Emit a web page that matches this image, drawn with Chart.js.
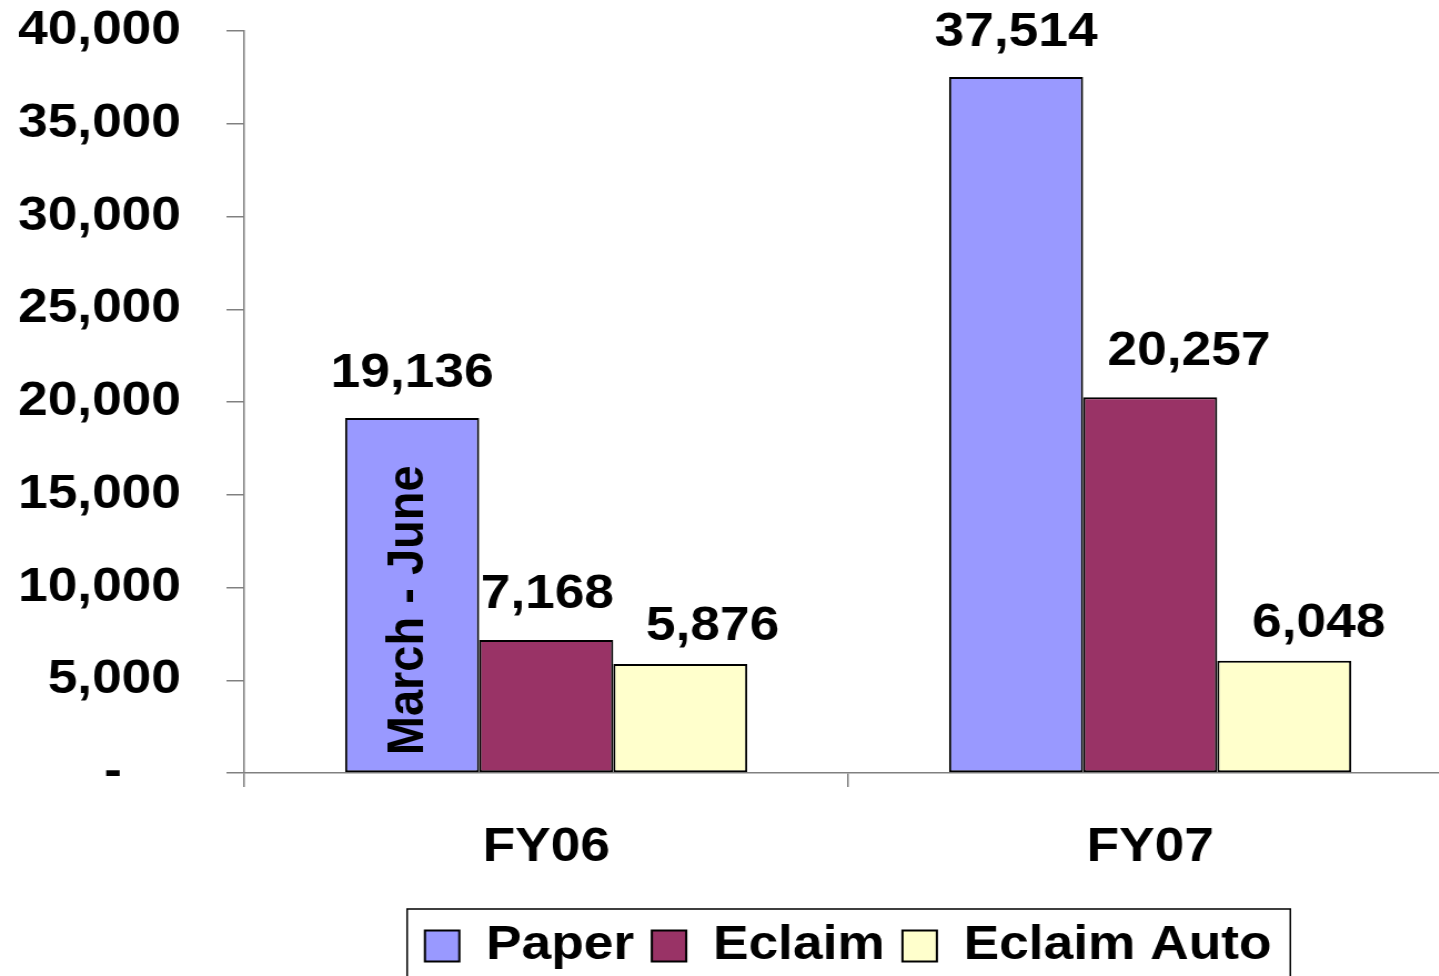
<!DOCTYPE html>
<html>
<head>
<meta charset="utf-8">
<title>Claims FY06 - FY07</title>
<script src="https://cdn.jsdelivr.net/npm/chart.js@4.4.1/dist/chart.umd.min.js"></script>
<style>
  html, body { margin: 0; padding: 0; background: #fff; overflow: hidden; }
</style>
</head>
<body>
<!-- the original slide is stretched a little sideways, so the canvas is too -->
<canvas id="claims" width="1316" height="976" style="width:1461px;height:976px"></canvas>
<script>
var years = ["FY06", "FY07"];
var paper = [19136, 37514];
var eclaim = [7168, 20257];
var eclaimAuto = [5876, 6048];
var yTickLabels = ["-", "5,000", "10,000", "15,000", "20,000", "25,000", "30,000", "35,000", "40,000"];
var periodNote = "March - June";

// where the value labels sit, relative to the top of their bar (per dataset, per year)
var labelShift = [[0, 0], [1, 35], [29, 31]];
var labelRise = [[31, 31], [32, 32], [24, 24]];

Chart.defaults.font.family = "'Liberation Sans', Arial, sans-serif";
Chart.defaults.font.weight = "bold";
Chart.defaults.color = "#000";

var legendFrame = {
  id: "legendFrame",
  afterLayout: function (chart) {
    // center the legend under the plot instead of the whole canvas
    var lg = chart.legend, ca = chart.chartArea;
    var d = (ca.left + ca.right) / 2 - (lg.left + lg.right) / 2;
    lg.left += d;
    lg.right += d;
  },
  afterDraw: function (chart) {
    var boxes = chart.legend.legendHitBoxes;
    if (!boxes || !boxes.length) return;
    var first = boxes[0], last = boxes[boxes.length - 1];
    var x0 = first.left - 16, x1 = last.left + last.width + 17;
    var ctx = chart.ctx;
    ctx.save();
    ctx.strokeStyle = "#000";
    ctx.lineWidth = 1.5;
    ctx.strokeRect(x0, first.top - 13, x1 - x0, 120);
    ctx.restore();
  }
};

var barLabels = {
  id: "barLabels",
  afterDatasetsDraw: function (chart) {
    var ctx = chart.ctx;
    ctx.save();
    ctx.fillStyle = "#000";
    ctx.font = "bold 48px 'Liberation Sans', Arial, sans-serif";
    ctx.textAlign = "center";
    ctx.textBaseline = "alphabetic";
    chart.data.datasets.forEach(function (ds, i) {
      chart.getDatasetMeta(i).data.forEach(function (bar, j) {
        ctx.fillText(ds.data[j].toLocaleString("en-US"), bar.x + labelShift[i][j], bar.y - labelRise[i][j]);
      });
    });
    // rotated note inside the first FY06 bar
    var first = chart.getDatasetMeta(0).data[0];
    ctx.font = "bold 47px 'Liberation Sans', Arial, sans-serif";
    ctx.translate(first.x - 3, first.base - 17);
    ctx.rotate(-Math.PI / 2);
    ctx.textAlign = "left";
    ctx.textBaseline = "middle";
    ctx.fillText(periodNote, 0, 0);
    ctx.restore();
  }
};

var claimsChart = new Chart(document.getElementById("claims"), {
  type: "bar",
  data: {
    labels: years,
    datasets: [
      {
        label: "Paper",
        data: paper,
        backgroundColor: "#9999FF",
        borderColor: "#000",
        borderWidth: 2,
        borderSkipped: false,
      },
      {
        label: "Eclaim",
        data: eclaim,
        backgroundColor: "#993366",
        borderColor: "#000",
        borderWidth: 2,
        borderSkipped: false,
      },
      {
        label: "Eclaim Auto",
        data: eclaimAuto,
        backgroundColor: "#FFFFCC",
        borderColor: "#000",
        borderWidth: 2,
        borderSkipped: false,
      },
    ],
  },
  options: {
    responsive: false,
    animation: false,
    devicePixelRatio: 1,
    layout: { padding: { top: 31, right: 8, bottom: -4, left: 0 } },
    datasets: { bar: { categoryPercentage: 0.666, barPercentage: 1 } },
    plugins: {
      legend: {
        position: "bottom",
        labels: { boxWidth: 31, boxHeight: 31, padding: 16, font: { size: 48 } },
      },
      tooltip: { enabled: false },
    },
    scales: {
      x: {
        grid: { offset: true, drawOnChartArea: false, tickLength: 14, color: "#808080", lineWidth: 1.5 },
        border: { color: "#808080", width: 1.5 },
        ticks: { padding: 37, font: { size: 48, lineHeight: 1 } },
        afterFit: function (s) { s.height = 133; },
      },
      y: {
        min: 0,
        max: 40000,
        grid: { drawOnChartArea: false, tickLength: 16, color: "#808080", lineWidth: 1.5 },
        border: { color: "#808080", width: 1.5 },
        ticks: {
          stepSize: 5000,
          padding: 41,
          font: { size: 48 },
          callback: function (v, i) {
            return i === 0 ? yTickLabels[0] + "    " : yTickLabels[i];
          },
        },
        afterFit: function (s) {
          s.width = 220;
          // tick padding is only meant as the horizontal gap
          s.paddingTop = 0;
          s.paddingBottom = 0;
        },
      },
    },
  },
  plugins: [legendFrame, barLabels],
});
</script>
</body>
</html>
